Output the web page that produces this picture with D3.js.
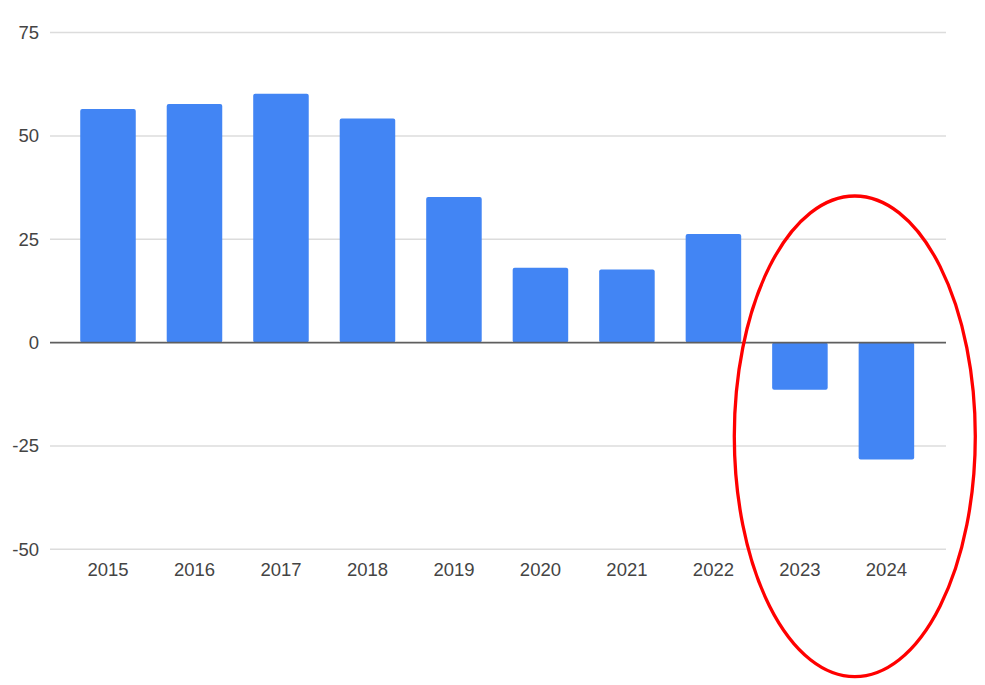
<!DOCTYPE html>
<html>
<head>
<meta charset="utf-8">
<script src="https://cdn.jsdelivr.net/npm/d3@7"></script>
<style>
  html, body { margin: 0; padding: 0; background: #fff; }
  svg { display: block; }
</style>
</head>
<body>
<svg id="chart" width="985" height="685"></svg>
<script>
const years = ["2015","2016","2017","2018","2019","2020","2021","2022","2023","2024"];
const values = [56.5, 57.7, 60.2, 54.2, 35.2, 18.1, 17.7, 26.3, -11.4, -28.3];
const yTicks = [-50, -25, 0, 25, 50, 75];

const svg = d3.select("#chart");
const gridLeft = 50, gridRight = 946;

const y = d3.scaleLinear().domain([-50, 75]).range([549.3, 32.6]);
const x = d3.scaleBand().domain(years).range([64.75, 929.65])
  .paddingInner(0.358).paddingOuter(0.179);

// gridlines
svg.append("g").selectAll("line").data(yTicks.filter(d => d !== 0)).join("line")
  .attr("x1", gridLeft).attr("x2", gridRight)
  .attr("y1", d => y(d)).attr("y2", d => y(d))
  .attr("stroke", "#dcdcdc").attr("stroke-width", 1.5);

// y tick labels
svg.append("g").selectAll("text").data(yTicks).join("text")
  .attr("x", 39).attr("y", d => y(d))
  .attr("text-anchor", "end").attr("dominant-baseline", "central")
  .attr("font-family", "Liberation Sans, Arial, sans-serif")
  .attr("font-size", 18.5).attr("fill", "#444")
  .text(d => d);

// bars
svg.append("g").selectAll("rect").data(years.map((k, i) => ({k, v: values[i]}))).join("rect")
  .attr("x", d => x(d.k))
  .attr("width", x.bandwidth())
  .attr("y", d => y(Math.max(0, d.v)))
  .attr("height", d => Math.abs(y(d.v) - y(0)))
  .attr("rx", 2)
  .attr("fill", "#4285f4");

// zero line
svg.append("line")
  .attr("x1", gridLeft).attr("x2", gridRight)
  .attr("y1", y(0)).attr("y2", y(0))
  .attr("stroke", "#5f5f5f").attr("stroke-width", 1.8);

// x labels
svg.append("g").selectAll("text").data(years).join("text")
  .attr("x", d => x(d) + x.bandwidth() / 2).attr("y", 569)
  .attr("text-anchor", "middle").attr("dominant-baseline", "central")
  .attr("font-family", "Liberation Sans, Arial, sans-serif")
  .attr("font-size", 18.5).attr("fill", "#444")
  .text(d => d);

// red highlight ellipse around 2023-2024
svg.append("ellipse")
  .attr("cx", 854.8).attr("cy", 436.3)
  .attr("rx", 120.5).attr("ry", 240.3)
  .attr("fill", "none").attr("stroke", "#ff0000").attr("stroke-width", 3.3);
</script>
</body>
</html>
